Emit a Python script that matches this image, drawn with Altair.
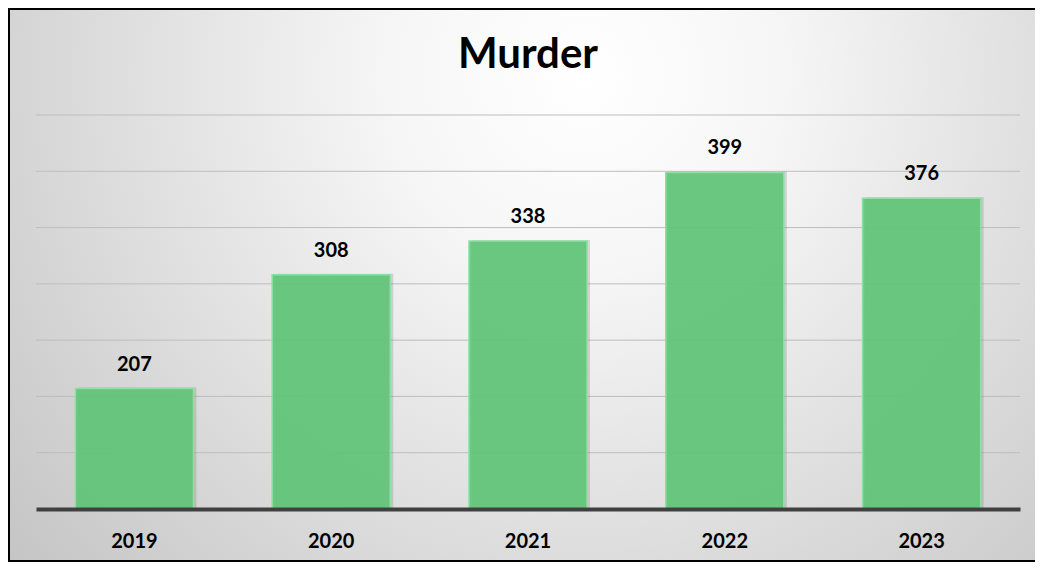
import altair as alt
import pandas as pd

# ---- data ----
years = ["2019", "2020", "2021", "2022", "2023"]
murders = [207, 308, 338, 399, 376]
grid_values = [150, 200, 250, 300, 350, 400, 450]
y_domain = [100, 450]
title_text = "Murder"

df = pd.DataFrame({"year": years, "murders": murders})
grid_df = pd.DataFrame({"v": grid_values})

W, H = 984, 394
PL, PT, PR, PB = 28, 107, 15, 54
FONT = "Lato"

yscale = alt.Scale(domain=y_domain, nice=False, zero=False)
xscale = alt.Scale(paddingInner=0.4, paddingOuter=0.2)

bg_gradient = alt.RadialGradient(
    gradient="radial",
    x1=0.55, y1=0.3, r1=0.0,
    x2=0.55, y2=0.3, r2=0.75,
    stops=[
        alt.GradientStop(offset=0.0, color="#ffffff"),
        alt.GradientStop(offset=0.25, color="#f6f6f6"),
        alt.GradientStop(offset=1.0, color="#c2c2c2"),
    ],
)

background = alt.Chart(alt.Data(values=[{"bg": 1}])).mark_rect(
    fill=bg_gradient, stroke="#000000", strokeWidth=2
).encode(
    x=alt.value(-PL + 1), x2=alt.value(W + PR + 20),
    y=alt.value(-PT + 1), y2=alt.value(H + PB - 2),
)

grid = alt.Chart(grid_df).mark_rule(color="#bdbdbd", strokeWidth=1).encode(
    y=alt.Y("v:Q", scale=yscale, axis=None)
)

xenc = alt.X(
    "year:N", scale=xscale,
    axis=alt.Axis(
        title=None, labelAngle=0, labelFont=FONT, labelFontSize=20,
        labelFontWeight="bold", labelColor="#000000", ticks=False, tickSize=0,
        labelPadding=22, domainColor="#404040", domainWidth=4, zindex=1, grid=False,
    ),
)

shadow = alt.Chart(df).mark_bar(
    fill="#6e6e6e", opacity=0.25, xOffset=3, yOffset=-1
).encode(
    x=xenc,
    y=alt.Y("murders:Q", scale=yscale, axis=None),
    y2=alt.datum(y_domain[0]),
)

bars = alt.Chart(df).mark_bar(
    fill="#5fc678", fillOpacity=0.92, stroke="#8ee0a2", strokeWidth=1.5
).encode(
    x=xenc,
    y=alt.Y("murders:Q", scale=yscale, axis=None),
    y2=alt.datum(y_domain[0]),
)

labels = alt.Chart(df).mark_text(
    font=FONT, fontSize=20, fontWeight="bold", color="#000000",
    baseline="alphabetic", dy=-18,
).encode(
    x=xenc,
    y=alt.Y("murders:Q", scale=yscale, axis=None),
    text=alt.Text("murders:Q"),
)

chart = alt.layer(background, grid, shadow, bars, labels).properties(
    width=W, height=H,
    padding={"left": PL, "top": PT, "right": PR, "bottom": PB},
    autosize=alt.AutoSizeParams(type="none"),
    title=alt.TitleParams(
        title_text, font=FONT, fontSize=42, fontWeight="bold", color="#000000",
        anchor="middle", frame="group", baseline="alphabetic", offset=0, dy=102,
    ),
).configure_view(stroke=None).configure(background="#ffffff")

chart.save("out.html", embed_options={"renderer": "svg", "actions": False})
